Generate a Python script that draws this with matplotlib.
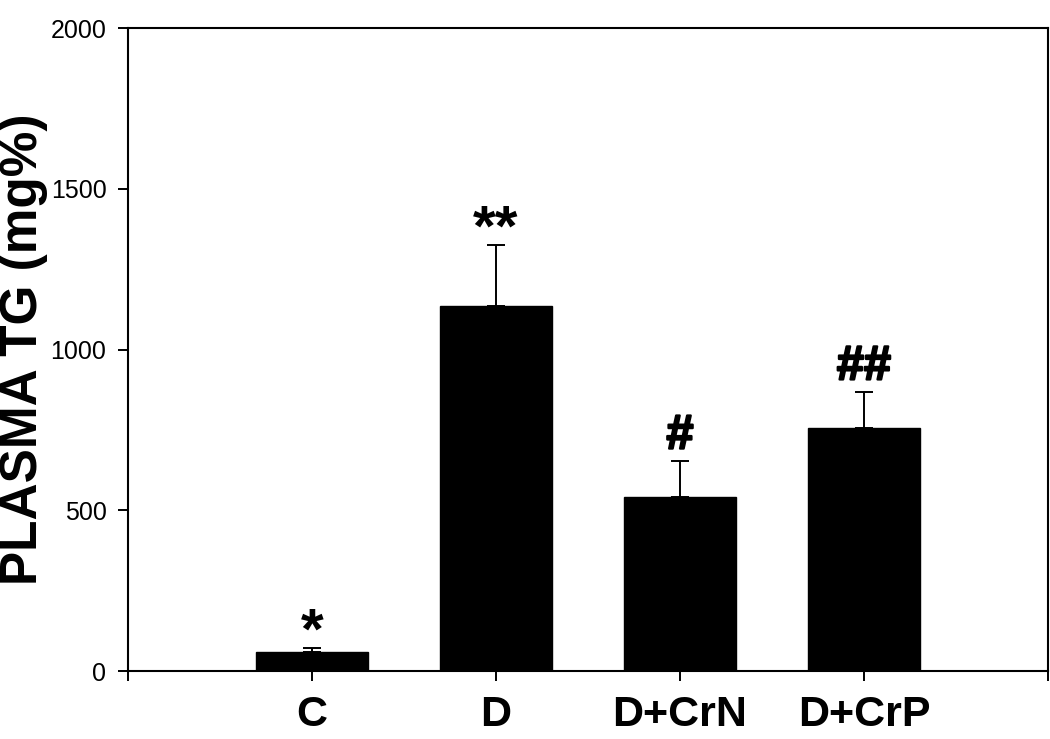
import matplotlib
matplotlib.use("Agg")
import matplotlib.pyplot as plt
import matplotlib.patheffects as pe

# Datos
grupos = ["C", "D", "D+CrN", "D+CrP"]
medias = [58, 1135, 541, 756]
errores = [13, 190, 112, 112]
marcas = ["*", "**", "#", "##"]

plt.rcParams["font.family"] = ["Liberation Sans", "DejaVu Sans"]

fig = plt.figure(figsize=(10.5, 7.39), dpi=100)
ax = fig.add_axes([0.1219, 0.092, 0.8762, 0.870])

pos = list(range(1, len(grupos) + 1))
ax.bar(pos, medias, width=0.61, color="black", edgecolor="black")
ax.errorbar(pos, medias, yerr=[[0] * len(errores), errores], fmt="none",
            ecolor="black", elinewidth=1.4, capsize=6.5, capthick=1.4)

# Marcas de significancia sobre las barras
grueso = [pe.withStroke(linewidth=1.6, foreground="black")]
for x, m, e, txt in zip(pos, medias, errores, marcas):
    if "*" in txt:
        ax.annotate(txt, (x, m + e), xytext=(0, 0), textcoords="offset points",
                    ha="center", va="baseline", fontsize=42, fontweight="bold")
    else:
        ax.annotate(txt, (x, m + e), xytext=(0, 9), textcoords="offset points",
                    ha="center", va="baseline", fontsize=35, fontweight="bold",
                    path_effects=grueso)

ax.set_xlim(0, 5)
ax.set_ylim(0, 2000)
ax.set_yticks([0, 500, 1000, 1500, 2000])
ax.set_xticks(range(0, 6))
ax.set_xticklabels([""] + grupos + [""], fontsize=31, fontweight="bold")
ax.tick_params(axis="x", direction="out", length=7, width=1.4, pad=10)
ax.tick_params(axis="y", direction="out", length=7.5, width=1.4, pad=8,
               labelsize=18)
for s in ax.spines.values():
    s.set_linewidth(1.5)

ax.set_ylabel("PLASMA TG (mg%)", fontsize=37, fontweight="bold")
ax.yaxis.set_label_coords(-0.087, 0.5)

fig.savefig("out.png", dpi=100)
